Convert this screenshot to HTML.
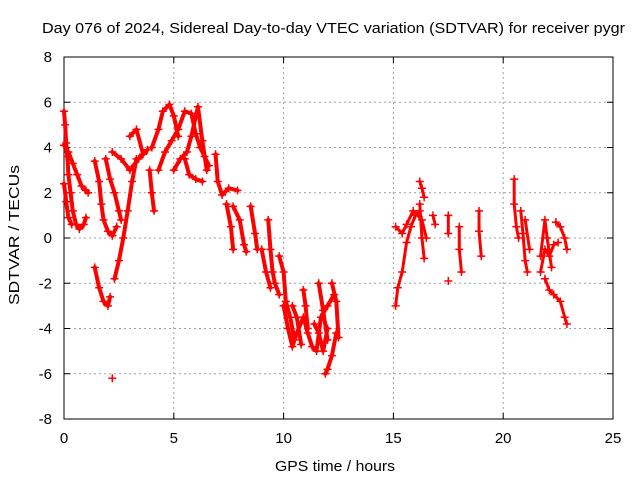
<!DOCTYPE html>
<html><head><meta charset="utf-8"><style>
body{margin:0;background:#fff}
svg{display:block;font-family:"Liberation Sans",sans-serif}
</style></head><body>
<svg id="chart" width="640" height="480" viewBox="0 0 640 480">
<text x="42" y="33" font-size="15" textLength="583" lengthAdjust="spacingAndGlyphs" fill="#000">Day 076 of 2024, Sidereal Day-to-day VTEC variation (SDTVAR) for receiver pygr</text>
<g id="grid"></g>
<g id="axes"></g>
<g id="marks"></g>
<text x="275" y="471" font-size="15" textLength="120" lengthAdjust="spacingAndGlyphs">GPS time / hours</text>
<text transform="translate(19,305) rotate(-90)" font-size="15" textLength="140" lengthAdjust="spacingAndGlyphs">SDTVAR / TECUs</text>
</svg>
<script>
const xTicks=[0,5,10,15,20,25];
const yTicks=[-8,-6,-4,-2,0,2,4,6,8];
const traces=[
[[0,5.6],[0.05,5.0],[0.1,4.2],[0.15,3.6],[0.2,2.8],[0.3,2.0],[0.4,1.2],[0.55,0.6],[0.7,0.4],[0.9,0.6],[1.0,0.9]],
[[0,4.1],[0.2,3.8],[0.4,3.3],[0.6,2.8],[0.8,2.3],[1.0,2.1],[1.1,2.0]],
[[0,2.4],[0.1,1.6],[0.2,0.9],[0.35,0.6]],
[[1.4,-1.3],[1.6,-2.2],[1.8,-2.8],[2.0,-3.0],[2.1,-2.6]],
[[1.4,3.4],[1.6,2.5],[1.7,1.5],[1.8,0.8],[2.0,0.3],[2.2,0.1],[2.4,0.5]],
[[1.9,3.5],[2.1,2.6],[2.3,2.0],[2.5,1.2],[2.6,0.8]],
[[2.3,-1.8],[2.5,-1.0],[2.7,0],[2.9,1.2],[3.1,2.5],[3.3,3.5]],
[[2.2,3.8],[2.6,3.5],[3.0,3.0],[3.4,3.5],[3.8,3.9]],
[[3.0,4.5],[3.3,4.8],[3.6,3.7]],
[[3.9,3.0],[4.0,2.0],[4.1,1.2]],
[[4.0,4.0],[4.3,4.8],[4.5,5.6],[4.8,5.9],[5.0,5.4],[5.2,4.5]],
[[4.3,3.0],[4.6,3.8],[4.9,4.3],[5.2,4.8],[5.5,5.6],[5.8,5.5],[6.0,4.6],[6.2,4.0],[6.4,3.6],[6.6,3.2]],
[[5.0,3.0],[5.3,3.5],[5.6,3.8],[5.8,4.5],[6.1,5.8],[6.3,4.3],[6.5,3.0]],
[[5.5,3.5],[5.7,2.8],[6.0,2.6],[6.3,2.5]],
[[6.9,3.7],[7.0,2.5],[7.2,1.9],[7.5,2.2],[7.9,2.1]],
[[7.4,1.5],[7.6,0.5],[7.7,-0.5]],
[[7.7,1.4],[8.0,0.8],[8.2,-0.3],[8.3,-0.6]],
[[8.5,1.4],[8.7,0.2],[8.8,-0.5]],
[[9.3,0.8],[9.4,-0.5],[9.5,-1.5],[9.6,-2.0],[9.8,-2.5]],
[[9.0,-0.5],[9.2,-1.5],[9.4,-2.2]],
[[9.8,-0.8],[10.0,-1.5],[10.1,-2.8],[10.3,-3.5],[10.5,-4.5]],
[[10.0,-3],[10.2,-4],[10.4,-4.8],[10.6,-4.2],[10.9,-3.5],[11.1,-4.2],[11.3,-4.8],[11.5,-5.0],[11.7,-3.5],[12.0,-3.0],[12.3,-2.5]],
[[10.9,-2.3],[11.0,-3.0],[11.1,-4.0]],
[[11.6,-2.0],[11.8,-3.2],[12.0,-4.5]],
[[11.9,-6.0],[12.0,-5.8],[12.2,-5.2],[12.4,-4.2]],
[[12.2,-2.0],[12.4,-2.8],[12.5,-4.4]],
[[11.4,-3.8],[11.6,-4.2],[11.8,-5.0],[12.0,-4.0]],
[[10.4,-3.0],[10.6,-3.5],[10.8,-4.7]],
[[2.2,-6.2]],
[[15.1,-3.0],[15.2,-2.2],[15.4,-1.5],[15.6,-0.2],[15.8,0.5],[16.0,1.0],[16.2,1.2]],
[[15.1,0.5],[15.4,0.2],[15.6,0.6],[15.9,1.2],[16.3,0.8],[16.5,0]],
[[16.2,2.5],[16.3,2.2],[16.4,1.8]],
[[16.2,1.5],[16.3,0],[16.4,-0.9]],
[[16.8,1.0],[16.9,0.6]],
[[17.5,1.0],[17.5,0.2]],[[17.5,-1.9]],
[[18.0,0.5],[18.0,-0.5],[18.1,-1.5]],
[[18.9,1.2],[18.9,0.3],[19.0,-0.8]],
[[20.5,2.6],[20.5,1.5],[20.6,0.5],[20.7,0]],
[[20.8,1.2],[20.9,0.2],[21.0,-1.0],[21.1,-1.5]],
[[21.0,0.8],[21.2,-0.5]],
[[21.7,-1.5],[21.9,-0.5],[22.1,-0.8],[22.3,-0.3],[22.5,-0.2]],
[[21.9,-1.8],[22.1,-2.3],[22.3,-2.5],[22.6,-2.8],[22.8,-3.5],[22.9,-3.8]],
[[22.4,0.7],[22.6,0.5],[22.8,0],[22.9,-0.5]],
[[21.7,-0.8],[21.9,0.8],[22.0,0],[22.2,-1.3]]
];
const NS="http://www.w3.org/2000/svg";
const X0=64,X1=613,Y0=419,Y1=57;
const sx=v=>X0+(v-0)/(25-0)*(X1-X0);
const sy=v=>Y0-(v+8)/16*(Y0-Y1);
function mk(tag,attrs,parent){const e=document.createElementNS(NS,tag);for(const k in attrs)e.setAttribute(k,attrs[k]);parent.appendChild(e);return e;}
const grid=document.getElementById('grid'),axes=document.getElementById('axes'),marks=document.getElementById('marks');
xTicks.forEach(t=>{
  if(t>0&&t<25){const l=mk('line',{x1:sx(t),x2:sx(t),y1:Y1,y2:Y0,stroke:'#a0a0a0','stroke-dasharray':'2,3'},grid);
  
  }
  const tx=mk('text',{x:sx(t),y:Y0+24,'font-size':15,'text-anchor':'middle'},axes);tx.textContent=t;
  
  
  mk('line',{x1:sx(t),x2:sx(t),y1:Y0,y2:Y0-6,stroke:'#000'},axes);
  mk('line',{x1:sx(t),x2:sx(t),y1:Y1,y2:Y1+6,stroke:'#000'},axes);
});
yTicks.forEach(t=>{
  if(t>-8&&t<8){const l=mk('line',{x1:X0,x2:X1,y1:sy(t),y2:sy(t),stroke:'#a0a0a0','stroke-dasharray':'2,3'},grid);
  
  }
  const tx=mk('text',{x:X0-12,y:sy(t)+5,'font-size':15,'text-anchor':'end'},axes);tx.textContent=t;
  
  
  mk('line',{x1:X0,x2:X0+6,y1:sy(t),y2:sy(t),stroke:'#000'},axes);
  mk('line',{x1:X1,x2:X1-6,y1:sy(t),y2:sy(t),stroke:'#000'},axes);
});
const fr=mk('rect',{x:X0,y:Y1,width:X1-X0,height:Y0-Y1,fill:'none',stroke:'#000'},axes);


traces.forEach(tr=>{
  const g=mk('g',{},marks);
  
  
  if(tr.length>1){
    mk('polyline',{points:tr.map(p=>sx(p[0])+','+sy(p[1])).join(' '),fill:'none',stroke:'#f00','stroke-width':tr[0][0]>14?3:4,'stroke-linejoin':'round','stroke-linecap':'round'},g);
  }
  tr.forEach(p=>{
    const x=sx(p[0]),y=sy(p[1]);
    const c=mk('path',{d:`M${x-4},${y}H${x+4}M${x},${y-4}V${y+4}`,stroke:'#f00','stroke-width':1.5},g);
    
    
  });
});
</script>
</body></html>
